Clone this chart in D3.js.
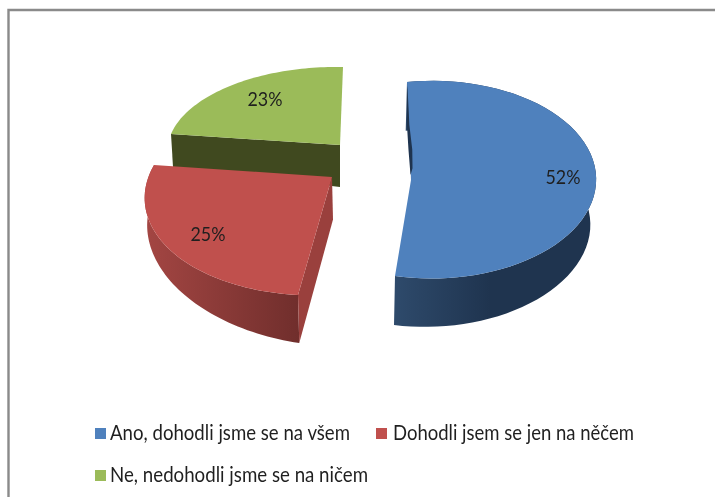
<!DOCTYPE html>
<html><head><meta charset="utf-8">
<script src="https://d3js.org/d3.v7.min.js"></script>
<style>
html,body{margin:0;padding:0;background:#fff}
svg{display:block;filter:blur(.45px)}
text{font-family:Lato,"Noto Sans",sans-serif;fill:#1f1f1f}
</style></head><body><div id="chart"></div>
<script>
// ---- data ----
const categories = ["Ano, dohodli jsme se na všem","Dohodli jsem se jen na něčem","Ne, nedohodli jsme se na ničem"];
const values = [52,25,23];
const topColors = ["#4f81bd","#c0504d","#9bbb59"];
const rimStart = ["#2e4a6b","#a24542","#40491f"];
const rimEnd = ["#1f344f","#702e2c","#40491f"];
const cutColors = ["#1f344f","#9a403d","#40491f"];

// ---- layout of the tilted, exploded pie (screen calibration of every slice) ----
const W=715,H=497;
const frames = [
 {apex:[411,180],start:[407,82],end:[395,276],mid:[596,184],rim:true,
  depth:(x,y)=>49-.018*Math.max(0,x-395), shift:x=>-1-(x-395)*.024, grad:[395,490]},
 {apex:[332,177],start:[298,295],end:[154,165],mid:[168,248],rim:true,
  depth:(x,y)=>48+.09*(x-298)+.072*(y-295), shift:x=>1+(332-x)*.008, grad:[150,300]},
 {apex:[340,145],start:[171,134],end:[343,67],mid:[235,84],rim:false,
  depth:(x,y)=>42+.053*(x-340), shift:x=>(340-x)*.012, grad:[170,340]}
];
const labelPos = [[563,177],[208,234],[265,99]];
const labelWidth = 35;
const legendLayout = [
 {sx:95,sy:428,tx:110,ty:440,tw:240},
 {sx:376,sy:428,tx:393,ty:440,tw:241},
 {sx:95,sy:470,tx:110,ty:482,tw:258}
];
const sliver = [[.04,0],[.44,-1.8],[.69,-1.3],[.95,-.3],[.88,2],[.69,2.5],[.44,.6],[.08,.3]];

// ---- helpers ----
function solve(A,b){const n=b.length,M=A.map((r,i)=>[...r,b[i]]);
 for(let c=0;c<n;c++){let p=c;for(let r=c+1;r<n;r++)if(Math.abs(M[r][c])>Math.abs(M[p][c]))p=r;
  [M[c],M[p]]=[M[p],M[c]];
  for(let r=0;r<n;r++)if(r!==c){const f=M[r][c]/M[c][c];for(let k=c;k<=n;k++)M[r][k]-=f*M[c][k];}}
 return M.map((r,i)=>r[n]/r[i]);}
function homography(src,dst){const A=[],b=[];
 src.forEach(([u,v],i)=>{const [x,y]=dst[i];
  A.push([u,v,1,0,0,0,-u*x,-v*x]);b.push(x);
  A.push([0,0,0,u,v,1,-u*y,-v*y]);b.push(y);});
 const h=solve(A,b);
 return (u,v)=>{const w=h[6]*u+h[7]*v+1;return [(h[0]*u+h[1]*v+h[2])/w,(h[3]*u+h[4]*v+h[5])/w];};}
const polar=a=>[Math.sin(a),-Math.cos(a)];

const pie=d3.pie().sort(null).startAngle(0).endAngle(2*Math.PI);
const arcs=pie(values);
const line=d3.line();

const svg=d3.select("#chart").append("svg").attr("width",W).attr("height",H).attr("viewBox",[0,0,W,H]);
svg.append("rect").attr("width",W).attr("height",H).attr("fill","#fff");
svg.append("path").attr("d","M8.5,497V10H715").attr("fill","none").attr("stroke","#8a8a8a").attr("stroke-width",2.4);

const defs=svg.append("defs");
// paint back to front: green, red, blue
[2,1,0].forEach(i=>{
 const a=arcs[i],f=frames[i];
 const mid=(a.startAngle+a.endAngle)/2;
 const P=homography([[0,0],polar(a.startAngle),polar(a.endAngle),polar(mid)],[f.apex,f.start,f.end,f.mid]);
 const arcPts=d3.range(0,61).map(k=>P(...polar(a.startAngle+(a.endAngle-a.startAngle)*k/60)));
 const low=([x,y])=>[x+f.shift(x),y+f.depth(x,y)];
 const g=svg.append("g");
 const id="rim"+i;
 const gr=defs.append("linearGradient").attr("id",id).attr("gradientUnits","userSpaceOnUse")
  .attr("x1",f.grad[0]).attr("x2",f.grad[1]).attr("y1",0).attr("y2",0);
 gr.append("stop").attr("offset",0).attr("stop-color",rimStart[i]);
 gr.append("stop").attr("offset",1).attr("stop-color",rimEnd[i]);
 // outer rim
 if(f.rim) g.append("path").attr("d",line([...arcPts,...arcPts.map(low).reverse()])+"Z").attr("fill",`url(#${id})`);
 // cut faces
 if(i===1){g.append("path").attr("d",line([f.apex,f.start,low(f.start),low(f.apex)])+"Z").attr("fill",cutColors[i]);}
 if(i===2){g.append("path").attr("d",line([f.start,f.apex,low(f.apex),low(f.start)])+"Z").attr("fill",cutColors[i]);}
 // top surface
 g.append("path").attr("d",line([f.apex,...arcPts])+"Z").attr("fill",topColors[i]);
 if(i===0){
  const pts=sliver.map(([t,o])=>[f.start[0]+(f.apex[0]-f.start[0])*t+o,f.start[1]+(f.apex[1]-f.start[1])*t]);
  g.append("path").attr("d",line(pts)+"Z").attr("fill",cutColors[i]);
 }
});

svg.append("g").selectAll("text").data(values).join("text")
 .attr("x",(d,i)=>labelPos[i][0]).attr("y",(d,i)=>labelPos[i][1]+7)
 .attr("text-anchor","middle").attr("font-size",20)
 .attr("textLength",labelWidth).attr("lengthAdjust","spacingAndGlyphs")
 .text(d=>d+"%");

const lg=svg.append("g").selectAll("g").data(categories).join("g");
lg.append("rect").attr("x",(d,i)=>legendLayout[i].sx).attr("y",(d,i)=>legendLayout[i].sy)
 .attr("width",11).attr("height",11).attr("fill",(d,i)=>topColors[i]);
lg.append("text").attr("x",(d,i)=>legendLayout[i].tx).attr("y",(d,i)=>legendLayout[i].ty)
 .attr("font-size",21).attr("textLength",(d,i)=>legendLayout[i].tw).attr("lengthAdjust","spacingAndGlyphs")
 .text(d=>d);
</script></body></html>
